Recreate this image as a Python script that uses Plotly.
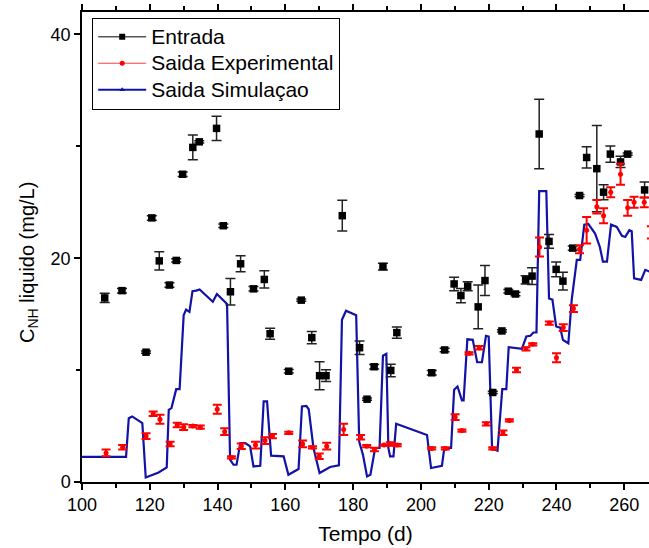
import plotly.graph_objects as go

# Entrada (black squares): day, value, error
ent_x = [106.7, 111.8, 118.9, 120.6, 122.8, 125.8, 127.8, 129.7, 132.7, 134.6, 139.7, 141.7,
         143.8, 146.8, 150.6, 153.8, 155.5, 161.0, 164.7, 167.8, 170.1, 172.0, 176.8, 181.9,
         184.1, 186.2, 188.8, 191.1, 192.9, 203.2, 207.0, 209.8, 211.8, 213.8, 216.9, 218.9,
         221.2, 223.9, 225.8, 227.9, 230.9, 232.8, 234.9, 237.8, 239.9, 241.9, 244.8, 246.8,
         248.9, 251.9, 253.9, 255.9, 258.9, 261.0, 266.0]
ent_y = [16.45, 17.1, 11.6, 23.6, 19.76, 17.6, 19.8, 27.5, 29.9, 30.4, 31.6, 22.9,
         17.0, 19.5, 17.26, 18.1, 13.25, 9.9, 16.25, 12.9, 9.5, 9.5, 23.8, 12.0,
         7.4, 10.3, 19.25, 9.97, 13.35, 9.76, 11.8, 17.7, 16.66, 17.5, 15.65, 18.0,
         8.0, 13.5, 17.05, 16.8, 18.06, 18.4, 31.1, 21.5, 19.0, 17.95, 20.9, 25.6,
         29.0, 28.0, 25.9, 29.3, 28.6, 29.3, 26.1]
ent_err = [0.42, 0.2, 0.1, 0.2, 0.82, 0.2, 0.15, 0.2, 1.1, 0.1, 1.09, 0.15,
           1.19, 0.71, 0.2, 0.77, 0.49, 0.15, 0.1, 0.55, 1.25, 0.52, 1.38, 0.6,
           0.1, 0.2, 0.3, 0.56, 0.5, 0.2, 0.15, 0.6, 0.64, 0.4, 1.96, 1.34,
           0.1, 0.1, 0.15, 0.15, 0.37, 0.74, 3.11, 0.62, 0.65, 0.8, 0.2, 0.1,
           0.95, 3.85, 0.67, 0.73, 0.5, 0.1, 0.71]

# Saida Experimental (red circles)
exp_x = [107.1, 112.0, 118.9, 121.0, 123.0, 126.0, 128.1, 130.0, 132.7, 134.9, 139.9, 142.1,
         144.1, 147.0, 151.2, 154.0, 156.2, 161.0, 165.1, 168.0, 170.0, 172.2, 177.2, 182.2,
         184.0, 186.3, 189.1, 191.0, 193.0, 203.2, 207.2, 210.1, 212.1, 214.2, 217.2, 219.3,
         221.2, 224.2, 226.1, 228.2, 231.0, 233.0, 235.0, 237.9, 240.0, 242.0, 245.0, 246.8,
         248.9, 251.9, 253.9, 256.0, 258.9, 261.0, 262.9, 265.9, 268.0]
exp_y = [2.6, 3.1, 4.1, 6.1, 5.6, 3.4, 5.1, 4.9, 5.0, 4.9, 6.5, 4.5,
         2.2, 3.2, 3.3, 3.7, 4.1, 4.4, 3.4, 3.1, 2.3, 3.2, 4.7, 4.0,
         3.2, 2.9, 3.3, 3.4, 3.3, 3.0, 3.0, 5.8, 4.6, 11.5, 12.0, 5.2,
         3.0, 4.4, 5.5, 10.0, 11.9, 12.3, 21.0, 14.2, 11.1, 13.8, 15.5, 20.8,
         22.5, 24.6, 23.8, 25.9, 27.5, 24.5, 25.0, 25.0, 22.3]
exp_err = [0.3, 0.2, 0.25, 0.2, 0.4, 0.2, 0.2, 0.25, 0.1, 0.15, 0.4, 0.3,
           0.1, 0.25, 0.3, 0.3, 0.2, 0.1, 0.3, 0.1, 0.25, 0.3, 0.5, 0.2,
           0.1, 0.15, 0.05, 0.15, 0.1, 0.1, 0.1, 0.25, 0.1, 0.1, 0.15, 0.15,
           0.1, 0.2, 0.1, 0.2, 0.15, 0.1, 0.85, 0.15, 0.4, 0.3, 0.3, 0.35,
           1.19, 0.6, 0.67, 0.45, 0.94, 0.7, 0.49, 0.45, 0.55]

# Saida Simulacao (blue line)
sim_x = [100, 113.0, 113.8, 114.8, 117.8, 118.8, 122.6, 125.0, 125.6, 126.4, 127.8, 128.8,
         130.0, 130.7, 131.7, 132.6, 133.7, 134.7, 138.6, 139.8, 142.8, 143.7, 144.7, 145.6,
         146.7, 148.2, 149.6, 150.6, 152.6, 153.6, 154.6, 155.8, 159.5, 160.9, 163.9, 164.9,
         166.2, 166.9, 168.3, 170.1, 173.2, 175.8, 176.7, 177.9, 180.9, 181.8, 182.9, 184.1,
         185.1, 186.5, 187.8, 188.8, 189.8, 190.4, 190.9, 191.9, 192.7, 201.8, 203.0, 206.2,
         206.9, 208.9, 209.8, 210.8, 212.1, 212.6, 213.7, 215.3, 216.6, 218.0, 219.2, 220.0,
         221.0, 222.6, 224.0, 225.2, 225.9, 229.8, 231.1, 232.3, 233.2, 234.1, 234.9, 237.0,
         237.8, 238.8, 239.9, 241.1, 241.9, 243.5, 244.5, 246.0, 247.0, 248.2, 249.4, 251.4,
         252.8, 253.7, 254.9, 256.1, 257.8, 259.3, 260.3, 261.5, 262.2, 262.9, 265.0, 266.2,
         267.5]
sim_y = [2.25, 2.25, 5.7, 5.86, 5.27, 0.4, 0.85, 1.3, 6.45, 6.6, 8.3, 8.3,
         14.9, 15.4, 15.2, 17.05, 17.1, 17.2, 16.1, 16.8, 15.9, 2.0, 1.54, 1.54,
         3.48, 3.48, 3.18, 1.39, 1.45, 7.2, 7.2, 2.35, 2.29, 0.65, 1.16, 6.75,
         6.8, 6.5, 3.04, 0.8, 1.34, 1.48, 14.5, 15.3, 14.9, 3.6, 2.44, 0.5,
         0.65, 3.04, 3.04, 11.28, 11.45, 3.04, 2.29, 2.29, 5.2, 4.2, 1.25, 1.45,
         3.04, 3.04, 8.24, 8.54, 7.3, 7.3, 12.75, 12.7, 10.7, 10.7, 13.06, 13.0,
         3.0, 2.8, 8.3, 8.3, 12.05, 11.9, 13.0, 13.06, 13.36, 13.36, 26.0, 26.0,
         16.4, 16.3, 13.9, 13.8, 12.7, 12.4, 16.3, 19.85, 19.85, 23.0, 23.06, 22.2,
         21.0, 19.7, 19.7, 23.0, 22.8, 22.0, 21.9, 22.5, 22.4, 18.2, 18.06, 18.96,
         18.8]

names = ["Entrada", "Saida Experimental", "Saida Simulaçao"]
x_ticks = [100, 120, 140, 160, 180, 200, 220, 240, 260]
y_ticks = [0, 20, 40]
FONT = "Arial, Liberation Sans, sans-serif"
BLUE = "#1212a6"


def leg(n):
    return "<span style='font-size:21px'>" + n + "</span>"


fig = go.Figure()

fig.add_trace(go.Scatter(
    x=sim_x, y=sim_y, mode="lines", showlegend=False,
    line=dict(color=BLUE, width=2.2)))

fig.add_trace(go.Scatter(
    x=ent_x, y=ent_y, mode="markers", showlegend=False,
    marker=dict(symbol="square", size=7.5, color="black"),
    error_y=dict(type="data", array=ent_err, visible=True, color="#222222",
                 thickness=1.5, width=5)))

fig.add_trace(go.Scatter(
    x=exp_x, y=exp_y, mode="markers", showlegend=False,
    marker=dict(symbol="circle", size=5, color="red"),
    error_y=dict(type="data", array=exp_err, visible=True, color="red",
                 thickness=2, width=4.5)))

# legend entries
fig.add_trace(go.Scatter(x=[None], y=[None], mode="lines+markers", name=leg(names[0]),
                         line=dict(color="black", width=1),
                         marker=dict(symbol="square", size=6, color="black")))
fig.add_trace(go.Scatter(x=[None], y=[None], mode="lines+markers", name=leg(names[1]),
                         line=dict(color="#ff4040", width=1),
                         marker=dict(symbol="circle", size=5, color="red")))
fig.add_trace(go.Scatter(x=[None], y=[None], mode="lines+markers", name=leg(names[2]),
                         line=dict(color=BLUE, width=2),
                         marker=dict(symbol="triangle-up", size=5, color=BLUE)))

fig.update_layout(
    width=649, height=548,
    margin=dict(l=82, r=0, t=12, b=66),
    paper_bgcolor="white", plot_bgcolor="white",
    font=dict(family=FONT, color="black", size=18),
    legend=dict(x=0.018, y=0.988, xanchor="left", yanchor="top",
                bordercolor="black", borderwidth=1, bgcolor="white",
                font=dict(size=18, family=FONT), tracegroupgap=0, itemwidth=48),
    annotations=[dict(text="C<sub>NH</sub> liquido (mg/L)", textangle=-90,
                      xref="paper", yref="paper", x=(28 - 82) / 567, y=(482 - 263) / 470,
                      xanchor="center", yanchor="middle", showarrow=False,
                      font=dict(size=20, family=FONT))],
)

fig.update_xaxes(
    range=[100, 267.3], tickvals=x_ticks,
    ticks="outside", ticklen=6, tickwidth=1.5, tickcolor="black",
    minor=dict(dtick=10, tick0=100, ticks="outside", ticklen=4, tickwidth=1.5, tickcolor="black"),
    showline=True, linecolor="black", linewidth=1.5, mirror="allticks",
    showgrid=False, zeroline=False,
    tickfont=dict(size=18, family=FONT),
    title=dict(text="Tempo (d)", font=dict(size=21, family=FONT), standoff=12))

fig.update_yaxes(
    range=[0, 42], tickvals=y_ticks,
    ticks="outside", ticklen=6, tickwidth=1.5, tickcolor="black",
    minor=dict(dtick=10, tick0=0, ticks="outside", ticklen=4, tickwidth=1.5, tickcolor="black"),
    showline=True, linecolor="black", linewidth=1.5, mirror=False,
    showgrid=False, zeroline=False,
    tickfont=dict(size=18, family=FONT))

fig.write_html("out.html")
